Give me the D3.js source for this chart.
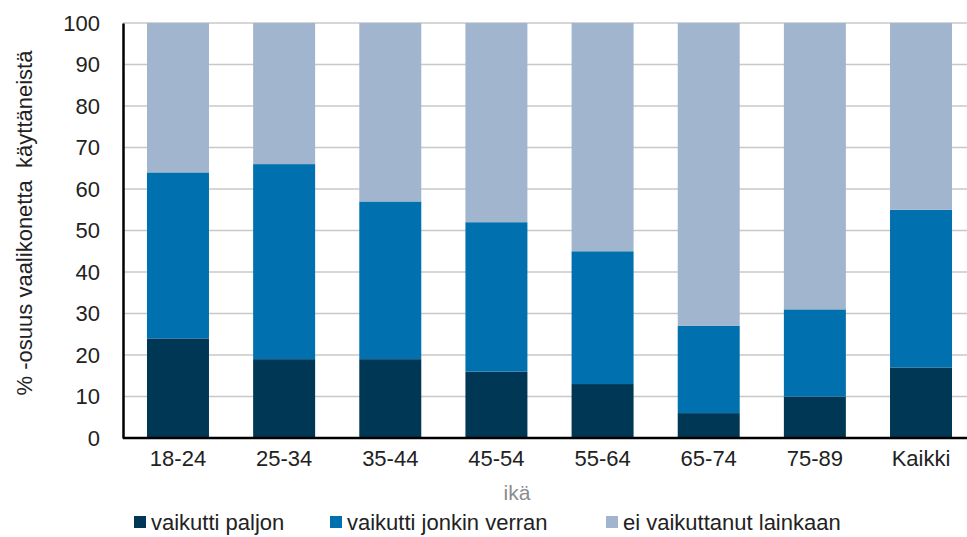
<!DOCTYPE html>
<html>
<head>
<meta charset="utf-8">
<script src="https://cdn.jsdelivr.net/npm/d3@7"></script>
<style>
  body { margin: 0; background: #fff; }
  text { font-family: "Liberation Sans", Arial, sans-serif; fill: #222; }
</style>
</head>
<body>
<svg id="chart" width="967" height="537"></svg>
<script>
// age groups on the x axis
var categories = ['18-24', '25-34', '35-44', '45-54', '55-64', '65-74', '75-89', 'Kaikki'];

// series values, % of users
var paljon = [24, 19, 19, 16, 13, 6, 10, 17];
var jonkin = [40, 47, 38, 36, 32, 21, 21, 38];
var eiLainkaan = [36, 34, 43, 48, 55, 73, 69, 45];

var seriesNames = ['vaikutti paljon', 'vaikutti jonkin verran', 'ei vaikuttanut lainkaan'];
var yTicks = [0, 10, 20, 30, 40, 50, 60, 70, 80, 90, 100];

var colors = ['#003755', '#0071AE', '#A1B5CF'];

var svg = d3.select('#chart');

var margin = {left: 123, top: 23, bottom: 99};
var width = 967, height = 537;

var x = d3.scaleBand()
    .domain(categories)
    .range([margin.left, 976])
    .paddingInner(0.416)
    .paddingOuter(0.226);

var y = d3.scaleLinear()
    .domain([0, 100])
    .range([height - margin.bottom, margin.top]);

// build stack table
var rows = categories.map(function(c, i){
    return {cat: c, s0: paljon[i], s1: jonkin[i], s2: eiLainkaan[i]};
});
var stack = d3.stack().keys(['s0', 's1', 's2'])(rows);

// gridlines
svg.append('g')
    .selectAll('line')
    .data(yTicks.filter(function(d){ return d > 0; }))
    .enter().append('line')
        .attr('x1', margin.left)
        .attr('x2', width)
        .attr('y1', function(d){ return y(d); })
        .attr('y2', function(d){ return y(d); })
        .attr('stroke', '#c8c8c8')
        .attr('stroke-width', 1.5);

// bars
svg.append('g')
    .selectAll('g')
    .data(stack)
    .enter().append('g')
        .attr('fill', function(d, i){ return colors[i]; })
    .selectAll('rect')
    .data(function(d){ return d; })
    .enter().append('rect')
        .attr('x', function(d){ return x(d.data.cat); })
        .attr('width', x.bandwidth())
        .attr('y', function(d){ return y(d[1]); })
        .attr('height', function(d){ return y(d[0]) - y(d[1]); });

var fontFam = '"Liberation Sans", Arial, sans-serif';

// y axis
var yAxis = svg.append('g')
    .attr('transform', 'translate(' + margin.left + ',0)')
    .call(d3.axisLeft(y).tickValues(yTicks).tickSize(0).tickPadding(23));
yAxis.select('.domain').attr('stroke', '#000').attr('stroke-width', 2.5);
yAxis.selectAll('text').attr('font-size', 22).attr('fill', '#222')
    .attr('font-family', fontFam);

// x axis
var xAxis = svg.append('g')
    .attr('transform', 'translate(0,' + y(0) + ')')
    .call(d3.axisBottom(x).tickSize(0).tickPadding(12));
xAxis.select('.domain').attr('stroke', '#000').attr('stroke-width', 2.5)
    .attr('d', 'M' + margin.left + ',0H' + width);
xAxis.selectAll('text').attr('font-size', 22).attr('fill', '#222')
    .attr('font-family', fontFam);

// axis titles
svg.append('text')
    .attr('transform', 'translate(32,223) rotate(-90)')
    .attr('text-anchor', 'middle')
    .attr('font-size', 22)
    .style('white-space', 'pre')
    .text('% -osuus vaalikonetta  käyttäneistä');

svg.append('text')
    .attr('x', 517)
    .attr('y', 500)
    .attr('text-anchor', 'middle')
    .attr('font-size', 21)
    .style('fill', '#8c8c8c')
    .text('ikä');

// legend (kept just inside the bottom edge)
var legendX = [134, 330, 606];
var legend = svg.append('g')
    .selectAll('g')
    .data(seriesNames)
    .enter().append('g')
        .attr('transform', function(d, i){ return 'translate(' + legendX[i] + ',516)'; });
legend.append('rect')
    .attr('width', 12).attr('height', 12)
    .attr('fill', function(d, i){ return colors[i]; });
legend.append('text')
    .attr('x', 17).attr('y', 14)
    .attr('font-size', 22)
    .text(function(d){ return d; });
</script>
</body>
</html>
